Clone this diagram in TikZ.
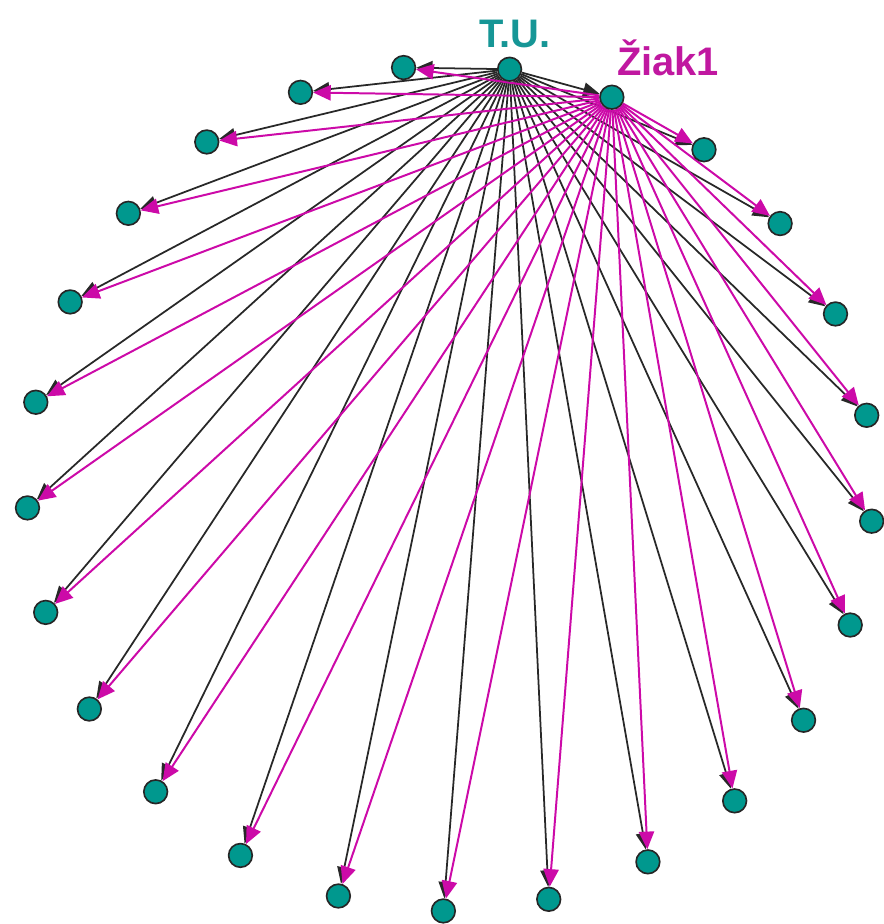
\documentclass[tikz,border=0pt]{standalone}
\usepackage{fontspec}
\setmainfont{Liberation Sans}
\usetikzlibrary{arrows.meta}
\definecolor{dotfill}{RGB}{0,152,142}
\definecolor{tulab}{RGB}{22,150,150}
\definecolor{zmag}{RGB}{204,10,168}
\definecolor{zlab}{RGB}{192,24,160}
\definecolor{blk}{RGB}{40,40,40}
\pgfdeclarelayer{bg}
\pgfsetlayers{bg,main}
\tikzset{
  dot/.style={circle,draw=black!85,line width=1.4pt,fill=dotfill,minimum size=0.71cm,inner sep=0pt},
  tuedge/.style={draw=blk,line width=1.5pt,-{Triangle[length=14pt,width=12pt]}},
  zedge/.style={draw=zmag,line width=1.7pt,-{Triangle[length=15pt,width=13pt]}},
  lab/.style={font=\fontsize{34}{38}\selectfont\bfseries,anchor=base,inner sep=0pt}
}
\begin{document}
\begin{tikzpicture}[x=0.03cm,y=-0.03cm]
\useasboundingbox (0,0) rectangle (883,924);
\foreach \k in {0,...,24}{
  \pgfmathsetmacro\t{8.1+14.4*\k}
  \node[dot] (n\k) at ({450+423*sin(\t)},{488-423*cos(\t)}) {};
}
\begin{pgfonlayer}{bg}
\foreach \k in {1,...,24}{
  \draw[tuedge] (n0) -- (n\k);
}
\foreach \k in {2,...,24}{
  \draw[zedge] (n1) -- (n\k);
}
\end{pgfonlayer}
\node[lab,text=tulab] (tu) at (515,47) {T.U.};
\node[lab,text=zlab] (zk) at (668,75) {Žiak1};
\end{tikzpicture}
\end{document}
